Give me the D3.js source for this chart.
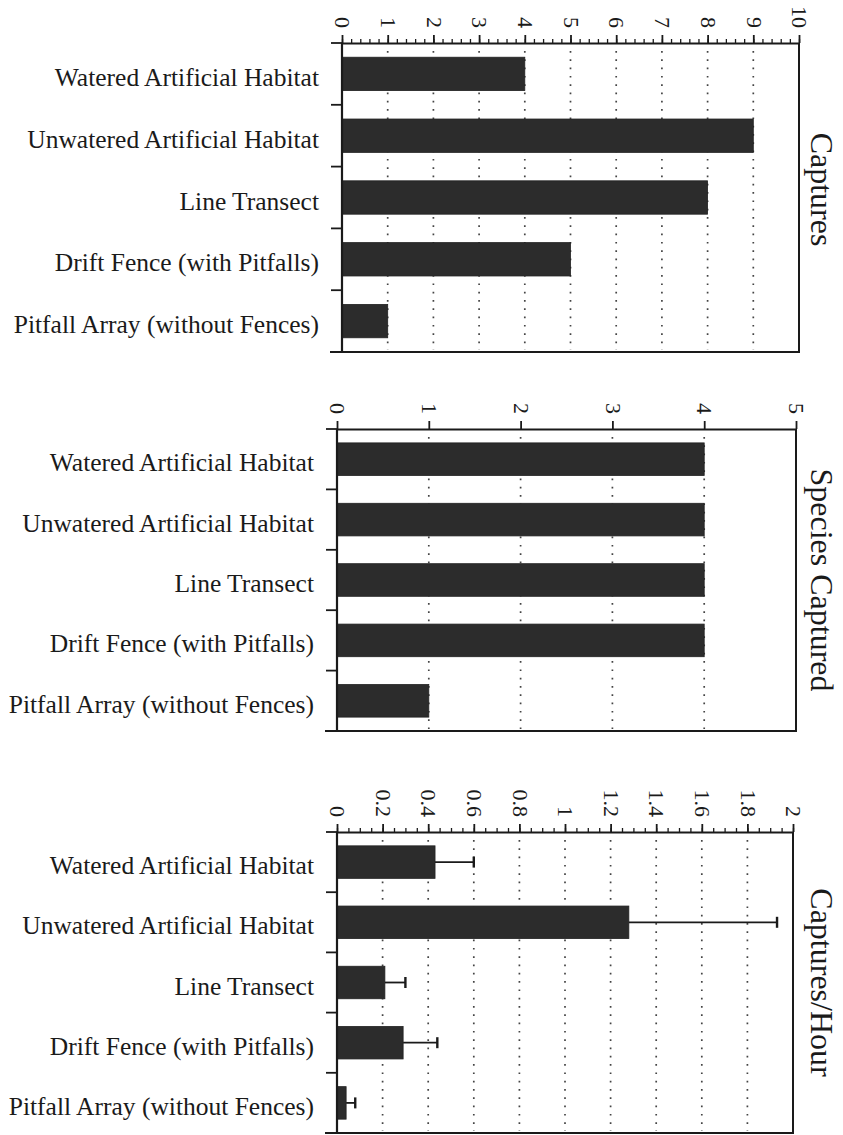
<!DOCTYPE html>
<html><head><meta charset="utf-8">
<script src="https://cdn.jsdelivr.net/npm/d3@7"></script>
<style>
html,body{margin:0;padding:0;background:#fff;}
svg{display:block;}
text{font-family:"Liberation Serif","Times New Roman",serif;fill:#1a1a1a;}
</style></head>
<body><svg id="c" width="843" height="1135"></svg>
<script>
const categories = ["Watered Artificial Habitat","Unwatered Artificial Habitat","Line Transect","Drift Fence (with Pitfalls)","Pitfall Array (without Fences)"];
const captures = [4, 9, 8, 5, 1];
const speciesCaptured = [4, 4, 4, 4, 1];
const capturesPerHour = [0.43, 1.28, 0.21, 0.29, 0.04];
const capturesPerHourErr = [0.17, 0.65, 0.09, 0.15, 0.04];
const captureTicks = [0,1,2,3,4,5,6,7,8,9,10];
const speciesTicks = [0,1,2,3,4,5];
const rateTicks = [0,0.2,0.4,0.6,0.8,1,1.2,1.4,1.6,1.8,2];
const titles = ["Captures","Species Captured","Captures/Hour"];

const panels = [
  {title:titles[0], values:captures, err:null, ticks:captureTicks, minorStep:0.2, max:10, x0:342, x1:799, y0:43, y1:352},
  {title:titles[1], values:speciesCaptured, err:null, ticks:speciesTicks, minorStep:null, max:5, x0:337, x1:796, y0:429, y1:731},
  {title:titles[2], values:capturesPerHour, err:capturesPerHourErr, ticks:rateTicks, minorStep:0.05, max:2, x0:337, x1:793, y0:832, y1:1133}
];

const svg = d3.select("#c");
const ink = "#1a1a1a";

panels.forEach(p => {
  const g = svg.append("g");
  const x = d3.scaleLinear().domain([0, p.max]).range([p.x0, p.x1]);
  const y = d3.scaleBand().domain(categories).range([p.y0, p.y1]).paddingInner(0).paddingOuter(0);
  const bw = y.bandwidth();
  const barH = bw * 0.54;

  // dotted grid
  g.selectAll("line.grid").data(p.ticks.filter(t => t > 0 && t < p.max)).enter()
    .append("line").attr("class","grid")
    .attr("x1", d => x(d)).attr("x2", d => x(d))
    .attr("y1", p.y0 + 8).attr("y2", p.y1 - 2)
    .attr("stroke", "#444").attr("stroke-width", 1.7)
    .attr("stroke-dasharray", "1.7,6.6").attr("stroke-linecap","butt");

  // bars
  g.selectAll("rect.bar").data(categories).enter().append("rect")
    .attr("x", x(0))
    .attr("y", d => y(d) + bw/2 - barH/2)
    .attr("width", (d,i) => x(p.values[i]) - x(0))
    .attr("height", barH)
    .attr("fill", "#2c2c2c").attr("stroke", "#222").attr("stroke-width", 0.8);

  // error bars
  if (p.err) {
    categories.forEach((c,i) => {
      const cy = y(c) + bw/2;
      const xe = x(p.values[i] + p.err[i]);
      g.append("line").attr("x1", x(p.values[i])).attr("x2", xe).attr("y1", cy).attr("y2", cy)
        .attr("stroke", ink).attr("stroke-width", 1.8);
      g.append("line").attr("x1", xe).attr("x2", xe).attr("y1", cy - 5.5).attr("y2", cy + 5.5)
        .attr("stroke", ink).attr("stroke-width", 2.4);
    });
  }

  // frame (right, bottom)
  g.append("line").attr("x1", p.x1).attr("x2", p.x1).attr("y1", p.y0).attr("y2", p.y1+1)
    .attr("stroke", ink).attr("stroke-width", 2);
  g.append("line").attr("x1", p.x0 - 12).attr("x2", p.x1 + 1).attr("y1", p.y1).attr("y2", p.y1)
    .attr("stroke", ink).attr("stroke-width", 2);
  // left axis line
  g.append("line").attr("x1", p.x0).attr("x2", p.x0).attr("y1", p.y0).attr("y2", p.y1)
    .attr("stroke", ink).attr("stroke-width", 2.2);
  // category boundary ticks
  const bounds = categories.map(c => y(c));
  g.selectAll("line.ctick").data(bounds).enter().append("line")
    .attr("x1", p.x0 - 11).attr("x2", p.x0).attr("y1", d => d).attr("y2", d => d)
    .attr("stroke", ink).attr("stroke-width", 1.8);

  // category labels
  g.selectAll("text.cat").data(categories).enter().append("text")
    .attr("x", p.x0 - 23).attr("y", d => y(d) + bw/2 + 12)
    .attr("text-anchor", "end").attr("font-size", 25.5).text(d => d);

  // minor ticks
  if (p.minorStep) {
    const minors = d3.range(0, p.max + 1e-9, p.minorStep).map(v => +v.toFixed(4));
    const minorAxis = d3.axisTop(x).tickValues(minors).tickSize(4).tickFormat("");
    const mg = g.append("g").attr("transform", `translate(0,${p.y0})`).call(minorAxis);
    mg.select(".domain").remove();
    mg.selectAll(".tick line").attr("stroke", ink).attr("stroke-width", 1.3);
  }

  // major axis
  const axis = d3.axisTop(x).tickValues(p.ticks).tickSize(8).tickSizeOuter(0).tickFormat(d => String(+d.toFixed(2)));
  const ag = g.append("g").attr("transform", `translate(0,${p.y0})`).call(axis);
  ag.select(".domain").attr("stroke", ink).attr("stroke-width", 2);
  ag.selectAll(".tick line").attr("stroke", ink).attr("stroke-width", 1.8);
  ag.selectAll(".tick text")
    .attr("font-family", '"Liberation Serif","Times New Roman",serif')
    .attr("font-size", 22).attr("fill", ink)
    .attr("transform", "rotate(90)")
    .attr("x", -15).attr("y", 0).attr("dy", "0.33em")
    .attr("text-anchor", "end");

  // title
  const cy = (p.y0 + p.y1) / 2 + (p.title === "Captures" ? -8 : 0);
  g.append("text").attr("transform", `translate(811,${cy}) rotate(90)`)
    .attr("text-anchor", "middle").attr("font-size", 32).text(p.title);
});
</script></body></html>
